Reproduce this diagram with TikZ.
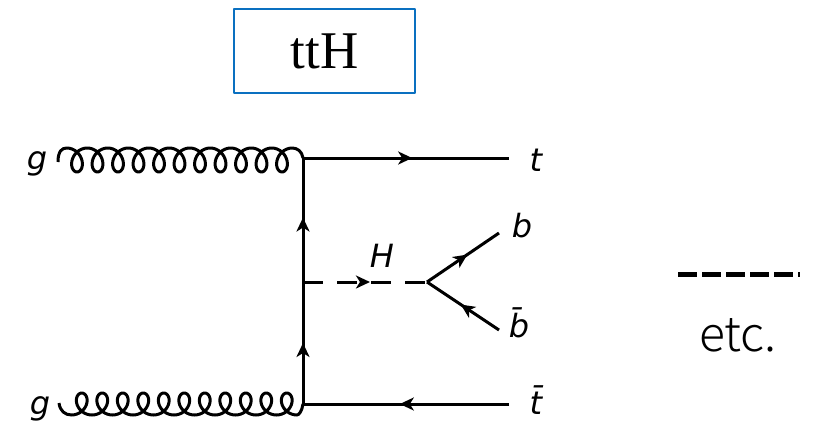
\documentclass[tikz,border=0pt]{standalone}
\usepackage{fontspec}
\setmainfont{Liberation Serif}
\newfontfamily\feynfont{DejaVu Sans}
\newfontfamily\notefont{Noto Sans CJK JP Light}
\usetikzlibrary{arrows.meta, positioning, decorations.markings}
\definecolor{boxblue}{HTML}{0A70C0}

\begin{document}
\begin{tikzpicture}[
    x=1pt, y=-1pt,
    line join=round,
    fermion/.style={line width=3pt, postaction={decorate}, decoration={markings, mark=at position #1 with {\arrow{Stealth[length=14pt, width=13pt, inset=4pt]}}}},
    higgs/.style={line width=3pt, dash pattern=on 20pt off 14pt, postaction={decorate}, decoration={markings, mark=at position #1 with {\arrow{Stealth[length=14pt, width=13pt, inset=4pt]}}}},
    gluon/.style={line width=3pt},
    particle/.style={inner sep=0pt, font=\feynfont\itshape\fontsize{32}{32}\selectfont},
    titlebox/.style={draw=boxblue, line width=1.8pt, minimum width=181pt, minimum height=84pt, font=\fontsize{53}{53}\selectfont},
]
    \useasboundingbox (0,0) rectangle (818,421);

    \node[titlebox] (title) at (324.5,51) {ttH};

    % vertices
    \coordinate (gtop) at (58,162);
    \coordinate (gbot) at (59,403);
    \coordinate (vtop) at (303,158);
    \coordinate (vhig) at (303,282);
    \coordinate (vbot) at (303,404);
    \coordinate (vdec) at (427,282);
    \coordinate (tout) at (509,158);
    \coordinate (tbar) at (509,404);
    \coordinate (bout) at (499,233);
    \coordinate (bbar) at (499,330);

    \draw[gluon] (gtop) .. controls (58,151) and (62,148) .. (66.75,148)
        -- plot[domain=0:3960, samples=331] ({66.75+\x/360*20.5+10*sin(\x)},{160-12*cos(\x)})
        .. controls (297,148) and (302,151) .. (vtop);
    \draw[gluon] (gbot) .. controls (60,411) and (65,415) .. (71.5,415)
        -- plot[domain=0:3960, samples=331] ({71.5+\x/360*20.5+10*sin(\x)},{404+11*cos(\x)})
        .. controls (299,415) and (302,411) .. (vbot);

    \draw[fermion=0.53] (vtop) -- (tout);
    \draw[fermion=0.53] (tbar) -- (vbot);
    \draw[fermion=0.5] (vbot) -- (vhig);
    \draw[fermion=0.52] (vhig) -- (vtop);
    \draw[higgs=0.54] (vhig) -- (vdec);
    \draw[fermion=0.56] (vdec) -- (bout);
    \draw[fermion=0.53] (bbar) -- (vdec);

    \node[particle] (lgtop) at (37,164) {g};
    \node[particle] (lgbot) at (40,409) {g};
    \node[particle] (lt) at (536,160) {t};
    \node[particle] (ltbar) at (536,400) {t̄};
    \node[particle] (lb) at (522,226) {b};
    \node[particle] (lbbar) at (519,323) {b̄};
    \node[particle] (lH) at (382,256) {H};

    % other processes
    \coordinate (dleft) at (678,274);
    \coordinate (dright) at (800,274);
    \draw[line width=5pt, dash pattern=on 19pt off 5pt] (dleft) -- (dright);
    \node[inner sep=0pt, font=\notefont\fontsize{48}{48}\selectfont] (etc) at (738,335) {etc.};
\end{tikzpicture}
\end{document}
